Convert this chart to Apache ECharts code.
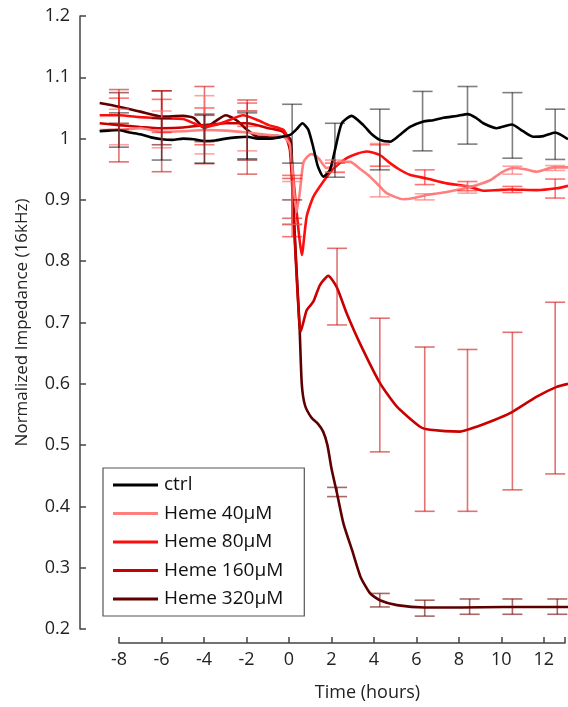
<!DOCTYPE html>
<html>
<head>
<meta charset="utf-8">
<script src="https://cdn.jsdelivr.net/npm/echarts@6/dist/echarts.min.js"></script>
<style>
html,body{margin:0;padding:0;background:#fff;}
#chart{width:568px;height:707px;}
</style>
</head>
<body>
<div id="chart"></div>
<script>
// ---- data (time in hours, normalized impedance) ----
var seriesNames = ['ctrl', 'Heme 40μM', 'Heme 80μM', 'Heme 160μM', 'Heme 320μM'];
var xTicks = [-8, -6, -4, -2, 0, 2, 4, 6, 8, 10, 12];

var ctrl = [[-8.9,1.012],[-8.5,1.013],[-8,1.014],[-7.5,1.010],[-7,1.007],[-6.5,1.002],[-6,0.999],[-5.5,0.998],[-5,1.000],[-4.5,0.999],[-4,0.996],[-3.5,0.997],[-3,1.000],[-2.5,1.002],[-2,1.003],[-1.5,1.000],[-1,1.000],[-0.5,1.002],[0,1.006],[0.3,1.015],[0.58,1.025],[0.85,1.015],[1.08,0.987],[1.3,0.955],[1.56,0.938],[1.87,0.949],[2.1,0.981],[2.42,1.025],[2.88,1.037],[3.43,1.022],[3.8,1.008],[4.2,0.998],[4.68,0.995],[5.1,1.005],[5.61,1.019],[6.24,1.028],[6.7,1.030],[7.17,1.034],[7.8,1.037],[8.31,1.040],[8.7,1.034],[9.04,1.025],[9.67,1.017],[10.37,1.023],[10.9,1.012],[11.38,1.003],[11.85,1.004],[12.4,1.010],[13,0.999]];

var heme40 = [[-8.9,1.014],[-8,1.014],[-7,1.017],[-6,1.011],[-5,1.012],[-4,1.014],[-3,1.013],[-2,1.010],[-1,1.006],[-0.3,1.003],[0,0.990],[0.15,0.930],[0.3,0.880],[0.45,0.910],[0.62,0.960],[0.8,0.970],[1.01,0.975],[1.33,0.968],[1.71,0.952],[2.0,0.955],[2.3,0.962],[2.81,0.962],[3.3,0.950],[3.74,0.938],[4.2,0.922],[4.52,0.911],[5.3,0.901],[5.8,0.903],[6.39,0.908],[7.33,0.913],[8.42,0.921],[9.36,0.932],[9.9,0.945],[10.45,0.952],[11.0,0.950],[11.54,0.946],[12.32,0.953],[13,0.953]];

var heme80 = [[-8.9,1.038],[-8,1.038],[-7,1.035],[-6,1.033],[-5,1.032],[-4.5,1.025],[-4,1.019],[-3.5,1.022],[-3,1.028],[-2.5,1.035],[-2.2,1.038],[-1.5,1.030],[-1,1.022],[-0.3,1.014],[0,0.990],[0.2,0.920],[0.4,0.850],[0.55,0.810],[0.78,0.873],[1.09,0.905],[1.56,0.930],[2.03,0.951],[2.65,0.968],[3.1,0.975],[3.59,0.979],[4.21,0.973],[4.68,0.960],[5.1,0.950],[5.6,0.941],[6.39,0.935],[7.33,0.927],[8.31,0.922],[9.04,0.915],[9.7,0.916],[10.29,0.917],[11.54,0.916],[12.47,0.919],[13,0.923]];

var heme160 = [[-8.9,1.025],[-8,1.022],[-7,1.019],[-6,1.017],[-5,1.018],[-4,1.022],[-3,1.025],[-2,1.025],[-1,1.017],[-0.3,1.010],[0,0.980],[0.2,0.850],[0.35,0.750],[0.5,0.685],[0.78,0.720],[1.09,0.734],[1.4,0.761],[1.79,0.776],[2.18,0.758],[2.65,0.715],[3.27,0.666],[4.21,0.601],[4.99,0.563],[6.08,0.530],[6.55,0.525],[7.95,0.522],[8.73,0.530],[9.5,0.540],[10.29,0.552],[11.54,0.579],[12.47,0.595],[13,0.600]];

var heme320 = [[-8.9,1.058],[-8,1.052],[-7,1.044],[-6,1.036],[-5,1.037],[-4.5,1.034],[-4,1.017],[-3.5,1.028],[-3,1.038],[-2.5,1.030],[-2,1.014],[-1.5,1.003],[-0.6,1.004],[0,1.000],[0.1,0.950],[0.2,0.860],[0.3,0.790],[0.45,0.690],[0.55,0.600],[0.7,0.565],[1.0,0.545],[1.3,0.535],[1.55,0.522],[1.75,0.500],[1.95,0.460],[2.2,0.421],[2.5,0.372],[2.9,0.329],[3.3,0.285],[3.75,0.258],[4.2,0.247],[5.0,0.239],[6.3,0.235],[8,0.235],[10,0.236],[12,0.236],[13,0.236]];

// error bars: [time, low, high]
var ctrlErr = [[-8,0.986,1.042],[-6,0.965,1.033],[-4,0.960,1.038],[-2,0.967,1.042],[0.1,0.960,1.056],[2.1,0.937,1.025],[4.2,0.949,1.048],[6.2,0.980,1.077],[8.3,0.991,1.085],[10.4,0.968,1.075],[12.4,0.966,1.048]];
var heme40Err = [[-8,0.990,1.048],[-6,0.985,1.045],[-4,0.975,1.070],[-2,0.980,1.045],[0.1,0.860,0.930],[2.1,0.945,0.965],[4.2,0.905,0.992],[6.3,0.900,0.910],[8.3,0.911,0.923],[10.4,0.942,0.955],[12.4,0.948,0.956]];
var heme80Err = [[-8,1.015,1.066],[-6,1.010,1.064],[-4,0.990,1.050],[-2,1.020,1.058],[0.1,0.840,0.940],[2.1,0.945,0.960],[4.2,0.955,0.990],[6.3,0.925,0.949],[8.3,0.915,0.930],[10.4,0.912,0.922],[12.4,0.903,0.934]];
var heme160Err = [[-8,0.962,1.080],[-6,0.946,1.078],[-4,0.959,1.085],[-2,0.942,1.063],[0.1,0.870,0.935],[2.2,0.696,0.821],[4.2,0.489,0.707],[6.3,0.392,0.660],[8.3,0.392,0.656],[10.4,0.427,0.684],[12.4,0.453,0.733]];
var heme320Err = [[-8,1.025,1.075],[-6,0.990,1.078],[-4,0.995,1.040],[-2,0.965,1.045],[0.1,0.860,0.900],[2.2,0.416,0.431],[4.2,0.236,0.258],[6.3,0.221,0.247],[8.4,0.224,0.249],[10.4,0.224,0.249],[12.5,0.224,0.249]];

var lineColors = ['#000000', '#ff7f7f', '#ff0d0d', '#c80000', '#5e0000'];
var errColors = ['rgba(0,0,0,0.5)', 'rgba(255,110,110,0.65)', 'rgba(255,0,0,0.55)', 'rgba(205,20,20,0.6)', 'rgba(110,0,0,0.6)'];

var lines = [ctrl, heme40, heme80, heme160, heme320];
var errs = [ctrlErr, heme40Err, heme80Err, heme160Err, heme320Err];

var FONT = 'Open Sans';

function errRender(color) {
  return function (params, api) {
    var x = api.value(0), lo = api.value(1), hi = api.value(2);
    var pl = api.coord([x, lo]), ph = api.coord([x, hi]);
    var hw = 10;
    var st = {stroke: color, lineWidth: 1.6, fill: null};
    return {
      type: 'group',
      children: [
        {type: 'line', shape: {x1: pl[0], y1: pl[1], x2: ph[0], y2: ph[1]}, style: st},
        {type: 'line', shape: {x1: pl[0]-hw, y1: pl[1], x2: pl[0]+hw, y2: pl[1]}, style: st},
        {type: 'line', shape: {x1: ph[0]-hw, y1: ph[1], x2: ph[0]+hw, y2: ph[1]}, style: st}
      ]
    };
  };
}

var series = [];
// draw order: darkest first, ctrl on top
var order = [4, 3, 2, 1, 0];
order.forEach(function (i) {
  series.push({
    name: seriesNames[i],
    type: 'line',
    xAxisIndex: 0, yAxisIndex: 0,
    data: lines[i],
    showSymbol: false,
    symbol: 'none',
    smooth: 0.2,
    color: lineColors[i],
    lineStyle: {color: lineColors[i], width: 2.6},
    z: 2,
    silent: true,
    animation: false
  });
});
order.forEach(function (i) {
  series.push({
    name: seriesNames[i] + ' err',
    type: 'custom',
    xAxisIndex: 0, yAxisIndex: 0,
    data: errs[i],
    encode: {x: 0, y: [1, 2]},
    renderItem: errRender(errColors[i]),
    z: 3,
    silent: true,
    animation: false
  });
});

var chart = echarts.init(document.getElementById('chart'), null, {renderer: 'canvas'});
chart.setOption({
  animation: false,
  backgroundColor: '#fff',
  grid: [
    {left: 80, right: 0, top: 16, bottom: 78, containLabel: false},
    {left: 119, right: 0, top: 600, bottom: 64, containLabel: false}
  ],
  xAxis: [
    {type: 'value', gridIndex: 0, min: -9.82, max: 13, show: false},
    {type: 'value', gridIndex: 1, min: xTicks[0], max: 13, interval: 2,
     axisLine: {show: true, onZero: false, lineStyle: {color: '#444', width: 1.5}},
     axisTick: {show: true, inside: true, length: 6, lineStyle: {color: '#444', width: 1.5}},
     splitLine: {show: false},
     axisLabel: {color: '#222', fontSize: 18, fontFamily: FONT, margin: 8,
       formatter: function (v) { return xTicks.indexOf(v) >= 0 ? String(v) : ''; }},
     name: 'Time (hours)', nameLocation: 'middle', nameGap: 41,
     nameTextStyle: {color: '#222', fontSize: 18, fontFamily: FONT, padding: [0, 0, 0, 51]}
    }
  ],
  yAxis: [
    {type: 'value', gridIndex: 0, min: 0.2, max: 1.2, interval: 0.1,
     axisLine: {show: true, onZero: false, lineStyle: {color: '#444', width: 1.5}},
     axisTick: {show: true, inside: true, length: 6, lineStyle: {color: '#444', width: 1.5}},
     splitLine: {show: false},
     axisLabel: {color: '#222', fontSize: 18, fontFamily: FONT, margin: 10,
       formatter: function (v) { return String(+v.toFixed(1)); }},
     name: 'Normalized Impedance (16kHz)', nameLocation: 'middle', nameGap: 49,
     nameTextStyle: {color: '#222', fontSize: 17, fontFamily: FONT}
    },
    {type: 'value', gridIndex: 1, show: false, min: 0, max: 1}
  ],
  legend: {
    data: seriesNames,
    orient: 'vertical',
    left: 103, top: 468,
    padding: [7, 21, 7, 10],
    itemGap: 8.5,
    itemWidth: 45, itemHeight: 3,
    icon: 'rect',
    selectedMode: false,
    backgroundColor: '#fff',
    borderColor: '#555',
    borderWidth: 1.2,
    borderRadius: 0,
    textStyle: {color: '#111', fontSize: 19, fontFamily: FONT, lineHeight: 20, padding: [0, 0, 0, 1]}
  },
  series: series
});
</script>
</body>
</html>
